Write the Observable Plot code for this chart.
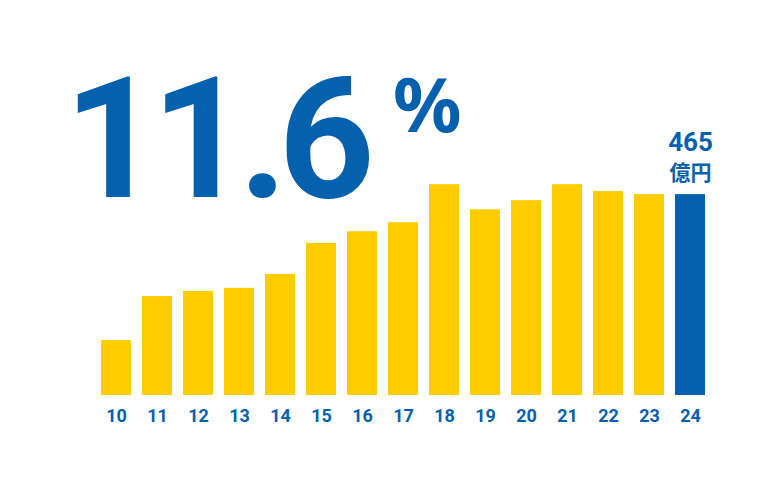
<!DOCTYPE html>
<html>
<head>
<meta charset="utf-8">
<script src="https://cdn.jsdelivr.net/npm/d3@7"></script>
<script src="https://cdn.jsdelivr.net/npm/@observablehq/plot@0.6"></script>
<style>
  html, body { margin: 0; padding: 0; background: #fff; }
  #wrap { position: relative; width: 775px; height: 491px; font-family: Roboto, "Noto Sans CJK JP", sans-serif; }
  .hl { position: absolute; color: #0560ad; font-weight: 700; white-space: nowrap; line-height: 1; }
  #num { left: 64px; top: 56px; font-family: Roboto, sans-serif; font-size: 168px; letter-spacing: -9px; }
  #pct { left: 393px; top: 65px; font-family: "Noto Sans", sans-serif; font-size: 76px; }
</style>
</head>
<body>
<div id="wrap">
  <div id="chart"></div>
  <div id="num" class="hl">11.6</div>
  <div id="pct" class="hl">%</div>
</div>
<script>
const years = ["10","11","12","13","14","15","16","17","18","19","20","21","22","23","24"];
const values = [127, 229, 241, 248, 280, 352, 379, 400, 488, 430, 451, 488, 472, 465, 465];
const highlightYear = "24";
const valueLabel = "465";
const unitLabel = "億円";

const blue = "#0560ad";
const yellow = "#ffcc00";

const data = years.map((year, i) => ({year, value: values[i]}));
const last = data.filter(d => d.year === highlightYear);

const chart = Plot.plot({
  width: 775,
  height: 491,
  marginLeft: 90,
  marginRight: 59,
  marginTop: 179,
  marginBottom: 96,
  style: {fontFamily: "Roboto, 'Noto Sans CJK JP', sans-serif", background: "#fff"},
  x: {domain: years, padding: 0.268, label: null},
  y: {domain: [0, 500], axis: null},
  marks: [
    Plot.barY(data, {x: "year", y: "value", fill: d => d.year === highlightYear ? blue : yellow}),
    Plot.axisX({tickSize: 0, tickPadding: 14, fontSize: 18, fontWeight: "bold", fill: blue, label: null}),
    Plot.text(last, {x: "year", y: "value", text: () => unitLabel, dy: -15, lineAnchor: "bottom", fontSize: 21, fontWeight: "bold", fill: blue, fontFamily: "'Noto Sans CJK JP', sans-serif"}),
    Plot.text(last, {x: "year", y: "value", text: () => valueLabel, dy: -44, lineAnchor: "bottom", fontSize: 26, fontWeight: "bold", fill: blue})
  ]
});
document.getElementById("chart").appendChild(chart);
</script>
</body>
</html>
